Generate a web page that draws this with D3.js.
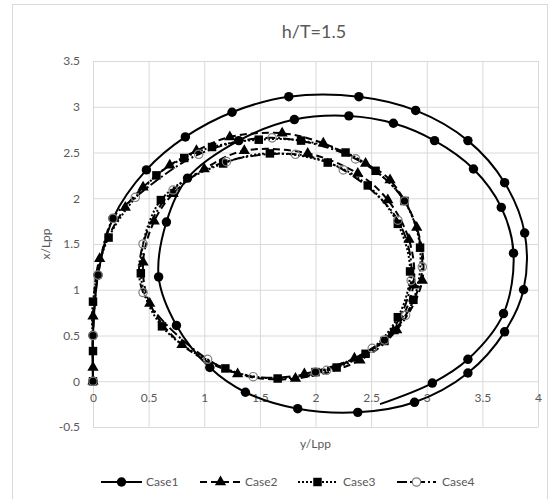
<!DOCTYPE html>
<html>
<head>
<meta charset="utf-8">
<script src="https://cdn.jsdelivr.net/npm/d3@7"></script>
<style>
  html, body { margin: 0; padding: 0; background: #fff; }
  svg { display: block; }
  text { font-family: Lato, "Liberation Sans", sans-serif; fill: #595959; }
</style>
</head>
<body>
<svg id="chart" width="557" height="499"></svg>
<script>
// ---------------- DATA ----------------
const title = "h/T=1.5";
const xTitle = "y/Lpp";
const yTitle = "x/Lpp";
const seriesNames = ["Case1", "Case2", "Case3", "Case4"];
const xTicks = [0, 0.5, 1, 1.5, 2, 2.5, 3, 3.5, 4];
const yTicks = [-0.5, 0, 0.5, 1, 1.5, 2, 2.5, 3, 3.5];

const case1X = [0, 0, 0.045, 0.18, 0.48, 0.83, 1.25, 1.76, 2.39, 2.90, 3.37, 3.70, 3.88, 3.87, 3.70, 3.37, 2.89, 2.38, 1.84, 1.37, 1.05, 0.75, 0.59, 0.66, 0.85, 1.31, 1.81, 2.30, 2.70, 3.07, 3.42, 3.67, 3.78, 3.69, 3.37, 3.05];
const case1Y = [0, 0.5, 1.16, 1.78, 2.31, 2.67, 2.94, 3.11, 3.11, 2.96, 2.63, 2.17, 1.62, 1.00, 0.54, 0.09, -0.23, -0.34, -0.30, -0.12, 0.15, 0.61, 1.14, 1.74, 2.22, 2.63, 2.86, 2.90, 2.82, 2.63, 2.32, 1.90, 1.40, 0.74, 0.24, -0.02];
// unmarked end of the Case1 track
const case1TailX = [2.58];
const case1TailY = [-0.25];

const case2X = [0, 0, 0, 0.06, 0.29, 0.45, 0.69, 0.93, 1.23, 1.70, 2.07, 2.45, 2.67, 2.91, 2.96, 2.73, 2.40, 1.82, 1.30, 0.80, 0.51, 0.45, 0.55, 0.72, 1.00, 1.36, 1.93, 2.38, 2.65, 2.84, 2.88, 2.70, 2.35, 1.90];
const case2Y = [0, 0.15, 0.71, 1.34, 1.90, 2.12, 2.36, 2.52, 2.67, 2.71, 2.60, 2.38, 2.20, 1.68, 1.10, 0.56, 0.23, 0.03, 0.08, 0.40, 0.85, 1.30, 1.75, 2.05, 2.32, 2.52, 2.49, 2.27, 1.98, 1.55, 1.05, 0.55, 0.25, 0.08];

const case3X = [0, 0, 0, 0.14, 0.57, 0.82, 1.07, 1.49, 1.87, 2.27, 2.54, 2.80, 2.94, 2.88, 2.62, 2.19, 1.66, 1.19, 0.62, 0.43, 0.61, 1.17, 1.59, 2.11, 2.47, 2.74, 2.85, 2.74, 2.45, 2.00];
const case3Y = [0, 0.33, 0.87, 1.57, 2.25, 2.44, 2.56, 2.64, 2.63, 2.50, 2.30, 1.97, 1.46, 0.89, 0.44, 0.15, 0.03, 0.14, 0.60, 1.18, 1.98, 2.38, 2.49, 2.39, 2.14, 1.72, 1.20, 0.70, 0.30, 0.10];

const case4X = [0, 0, 0.045, 0.18, 0.38, 0.95, 1.61, 2.36, 2.80, 2.96, 2.81, 2.51, 2.00, 1.44, 1.03, 0.45, 0.45, 0.72, 1.20, 1.82, 2.25, 2.74, 2.86, 2.62, 2.10];
const case4Y = [0, 0.5, 1.16, 1.78, 2.01, 2.48, 2.66, 2.43, 1.97, 1.25, 0.72, 0.36, 0.10, 0.05, 0.24, 0.97, 1.50, 2.09, 2.40, 2.48, 2.31, 1.76, 1.10, 0.45, 0.12];

// ---------------- CHART ----------------
const svg = d3.select("#chart");
const W = 557, H = 499;
const plot = { left: 93, right: 538, top: 61, bottom: 427 };

const x = d3.scaleLinear().domain([0, 4]).range([plot.left, plot.right]);
const y = d3.scaleLinear().domain([-0.5, 3.5]).range([plot.bottom, plot.top]);

svg.append("rect").attr("x", 0).attr("y", 0).attr("width", W).attr("height", H).attr("fill", "#fff");
// chart area border
svg.append("rect").attr("x", 12.5).attr("y", 4.5).attr("width", 535).attr("height", 500)
  .attr("fill", "none").attr("stroke", "#d9d9d9").attr("stroke-width", 1);

// grid
const gx = svg.append("g").attr("transform", `translate(0,${plot.bottom})`)
  .call(d3.axisBottom(x).tickValues(xTicks).tickSize(-(plot.bottom - plot.top)).tickFormat(""));
const gy = svg.append("g").attr("transform", `translate(${plot.left},0)`)
  .call(d3.axisLeft(y).tickValues(yTicks).tickSize(-(plot.right - plot.left)).tickFormat(""));
[gx, gy].forEach(g => {
  g.select(".domain").remove();
  g.selectAll("line").attr("stroke", "#d9d9d9").attr("stroke-width", 1);
});

// tick labels
const lx = svg.append("g").attr("transform", `translate(0,${y(0)})`)
  .call(d3.axisBottom(x).tickValues(xTicks).tickSize(0).tickPadding(12).tickFormat(d => String(d)));
const ly = svg.append("g").attr("transform", `translate(${plot.left},0)`)
  .call(d3.axisLeft(y).tickValues(yTicks).tickSize(0).tickPadding(13).tickFormat(d => String(d)));
[lx, ly].forEach(g => {
  g.select(".domain").remove();
  g.selectAll("text").attr("font-size", 12).attr("font-family", "Lato, sans-serif").attr("fill", "#595959");
});

// titles
svg.append("text").attr("x", 314).attr("y", 38).attr("text-anchor", "middle")
  .attr("font-size", 18).text(title);
svg.append("text").attr("x", (plot.left + plot.right) / 2).attr("y", 448).attr("text-anchor", "middle")
  .attr("font-size", 12).text(xTitle);
svg.append("text").attr("transform", `translate(50,${(plot.top + plot.bottom) / 2}) rotate(-90)`)
  .attr("text-anchor", "middle").attr("font-size", 12).text(yTitle);

// series
const zip = (xs, ys) => xs.map((v, i) => [v, ys[i]]);
const line = d3.line().x(d => x(d[0])).y(d => y(d[1])).curve(d3.curveCatmullRom.alpha(0.5));

const styles = [
  { dash: null, sym: d3.symbolCircle, size: 70, fill: "#000", stroke: "none" },
  { dash: "7,4", sym: d3.symbolTriangle, size: 55, fill: "#000", stroke: "none" },
  { dash: "2,2", sym: d3.symbolSquare, size: 72, fill: "#000", stroke: "none" },
  { dash: "10,3,2,3", sym: d3.symbolCircle, size: 55, fill: "none", stroke: "#7f7f7f" }
];

const series = [
  { pts: zip(case1X, case1Y), tail: zip(case1TailX, case1TailY) },
  { pts: zip(case2X, case2Y), tail: [] },
  { pts: zip(case3X, case3Y), tail: [] },
  { pts: zip(case4X, case4Y), tail: [] }
];

series.forEach((s, i) => {
  const st = styles[i];
  const g = svg.append("g");
  g.append("path").attr("d", line(s.pts.concat(s.tail)))
    .attr("fill", "none").attr("stroke", "#000").attr("stroke-width", 2)
    .attr("stroke-dasharray", st.dash);
  g.selectAll("path.m").data(s.pts).join("path").attr("class", "m")
    .attr("transform", d => `translate(${x(d[0])},${y(d[1])})`)
    .attr("d", d3.symbol().type(st.sym).size(st.size)())
    .attr("fill", st.fill).attr("stroke", st.stroke).attr("stroke-width", 1.2);
});

// legend
const legendY = 482;
const legendItems = [
  { x1: 101, x2: 142, tx: 146 },
  { x1: 200, x2: 241, tx: 245 },
  { x1: 298, x2: 337, tx: 343 },
  { x1: 397, x2: 436, tx: 442 }
];
legendItems.forEach((it, i) => {
  const st = styles[i];
  const g = svg.append("g");
  g.append("line").attr("x1", it.x1).attr("x2", it.x2).attr("y1", legendY).attr("y2", legendY)
    .attr("stroke", "#000").attr("stroke-width", 2).attr("stroke-dasharray", st.dash);
  g.append("path").attr("transform", `translate(${(it.x1 + it.x2) / 2},${legendY})`)
    .attr("d", d3.symbol().type(st.sym).size(st.size)())
    .attr("fill", st.fill === "none" ? "#fff" : st.fill).attr("stroke", st.stroke).attr("stroke-width", 1.2);
  g.append("text").attr("x", it.tx).attr("y", legendY + 4).attr("font-size", 12).text(seriesNames[i]);
});
</script>
</body>
</html>
